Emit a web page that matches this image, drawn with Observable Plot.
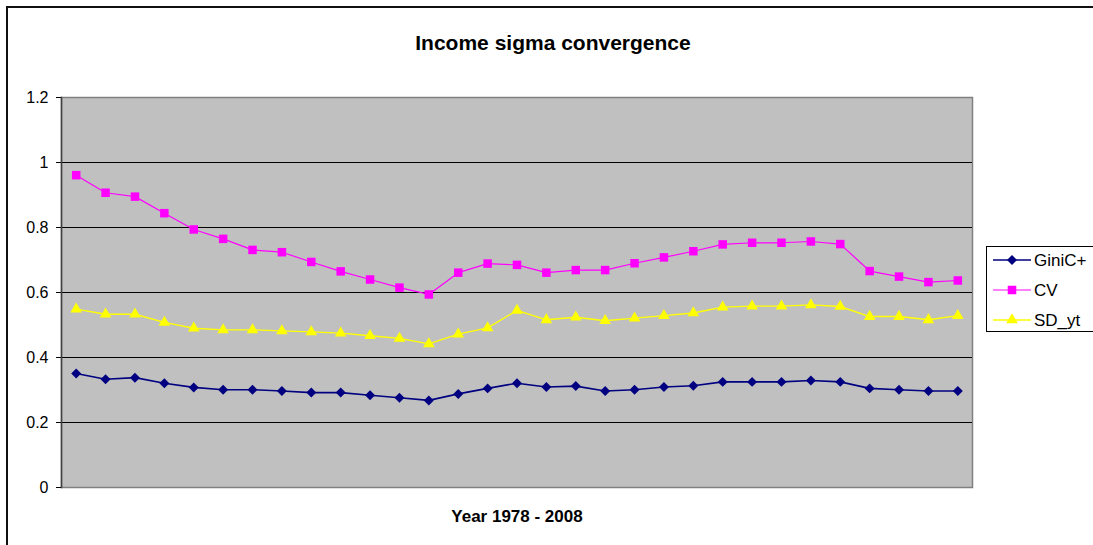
<!DOCTYPE html>
<html>
<head>
<meta charset="utf-8">
<script src="https://cdn.jsdelivr.net/npm/d3@7"></script>
<script src="https://cdn.jsdelivr.net/npm/@observablehq/plot@0.6"></script>
<style>
  html, body { margin: 0; padding: 0; background: #fff; }
  body { width: 1093px; height: 545px; overflow: hidden; position: relative; font-family: "Liberation Sans", Arial, sans-serif; }
  #border { position: absolute; left: 6px; top: 6px; width: 1100px; height: 560px; border: 2px solid #111; box-sizing: border-box; pointer-events: none; }
  #chart { position: absolute; left: 0; top: 0; }
  #legend { position: absolute; left: 986px; top: 246px; width: 110px; height: 86px; border: 1px solid #000; background: #fff; box-sizing: border-box; }
</style>
</head>
<body>
<div id="chart"></div>
<div id="legend"></div>
<div id="border"></div>
<script>
const years = d3.range(1978, 2009);
const seriesNames = ["GiniC+", "CV", "SD_yt"];
const gini = [0.351,0.333,0.338,0.321,0.308,0.301,0.301,0.297,0.292,0.292,0.284,
              0.276,0.268,0.288,0.305,0.321,0.309,0.312,0.297,0.301,0.309,
              0.313,0.325,0.325,0.325,0.329,0.325,0.305,0.301,0.297,0.297];
const cv = [0.961,0.907,0.895,0.844,0.794,0.765,0.731,0.724,0.694,0.665,0.640,
            0.615,0.594,0.661,0.689,0.685,0.661,0.669,0.669,0.690,0.708,
            0.727,0.748,0.753,0.753,0.757,0.749,0.666,0.649,0.632,0.637];
const sdyt = [0.549,0.533,0.533,0.508,0.490,0.485,0.485,0.482,0.479,0.475,0.467,
              0.459,0.442,0.472,0.491,0.545,0.516,0.524,0.513,0.521,0.529,
              0.537,0.555,0.558,0.558,0.562,0.557,0.526,0.526,0.516,0.529];
const yTicks = [0, 0.2, 0.4, 0.6, 0.8, 1, 1.2];
const gridTicks = [0.2, 0.4, 0.6, 0.8, 1];
const titleText = "Income sigma convergence";
const xLabel = "Year 1978 - 2008";

const styles = {
  "GiniC+": {color: "#000080", symbol: "diamond2", r: 4.5, sw: 1.6},
  "CV": {color: "#FF00FF", symbol: "square", r: 4.8, sw: 1.2},
  "SD_yt": {color: "#FFFF00", symbol: "triangle", r: 4.3, sw: 1.4}
};
const valuesBySeries = {"GiniC+": gini, "CV": cv, "SD_yt": sdyt};
const data = seriesNames.flatMap(s => years.map((y, i) => ({series: s, year: y, value: valuesBySeries[s][i]})));

const marks = [
  Plot.frame({fill: "#C0C0C0", stroke: "#808080", strokeWidth: 1.5}),
  Plot.ruleY(gridTicks, {stroke: "#000", strokeWidth: 1}),
  Plot.axisY({ticks: yTicks, tickSize: 5, tickPadding: 8, tickFormat: d => String(+d.toFixed(1)),
               fontSize: 16, fill: "#000", label: null}),
];
for (const s of seriesNames) {
  const st = styles[s];
  const d = data.filter(e => e.series === s);
  marks.push(Plot.line(d, {x: "year", y: "value", stroke: st.color, strokeWidth: st.sw}));
  marks.push(Plot.dot(d, {x: "year", y: "value", symbol: () => st.symbol, r: st.r, fill: st.color, stroke: "none"}));
}
marks.push(Plot.frame({anchor: "left", stroke: "#404040", strokeWidth: 1.5}));
marks.push(Plot.text([titleText], {frameAnchor: "top", dy: -62, dx: 36, fontSize: 21, fontWeight: "bold", fill: "#000"}));
marks.push(Plot.text([xLabel], {frameAnchor: "bottom", dy: 34, fontSize: 17, fontWeight: "bold", fill: "#000"}));

const chart = Plot.plot({
  width: 1093,
  height: 545,
  marginLeft: 61,
  marginRight: 121,
  marginTop: 97,
  marginBottom: 58,
  style: {fontFamily: "'Liberation Sans', Arial, sans-serif", background: "transparent"},
  x: {type: "point", domain: years, padding: 0.5, round: false, axis: null},
  y: {domain: [0, 1.2]},
  symbol: {domain: ["diamond2", "square", "triangle"], range: ["diamond2", "square", "triangle"]},
  marks
});
document.getElementById("chart").appendChild(chart);

// Legend
const legend = d3.select("#legend");
const lsvg = legend.append("svg").attr("width", 108).attr("height", 84);
const symMap = {"diamond2": d3.symbolDiamond2, "square": d3.symbolSquare, "triangle": d3.symbolTriangle};
seriesNames.forEach((s, i) => {
  const st = styles[s];
  const cy = 13 + i * 30;
  const g = lsvg.append("g").attr("transform", `translate(0,${cy})`);
  g.append("line").attr("x1", 6).attr("x2", 44).attr("stroke", st.color).attr("stroke-width", st.sw);
  g.append("path").attr("d", d3.symbol(symMap[st.symbol], Math.PI * st.r * st.r)()).attr("transform", "translate(25,0)").attr("fill", st.color);
  g.append("text").attr("x", 47).attr("y", 0).attr("dy", "0.35em").attr("font-size", 17).attr("fill", "#000").text(s);
});
</script>
</body>
</html>
